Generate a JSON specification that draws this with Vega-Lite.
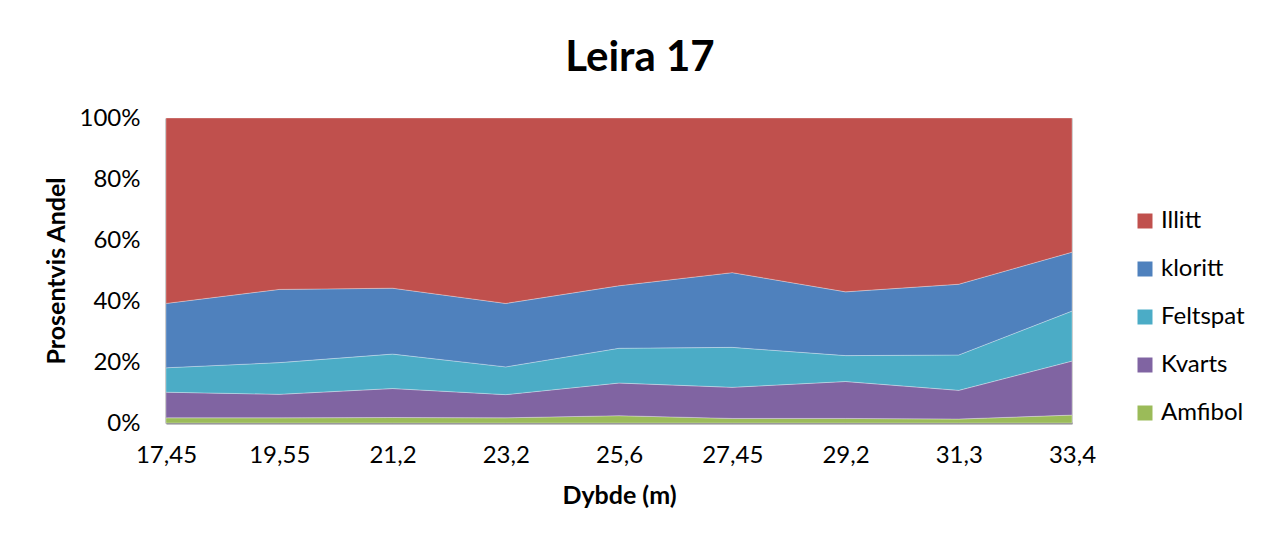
{
  "$schema": "https://vega.github.io/schema/vega-lite/v6.json",
  "width": 906,
  "height": 305,
  "autosize": {"type": "none"},
  "padding": {"left": 166, "top": 118, "right": 200, "bottom": 118},
  "background": "white",
  "title": {
    "text": "Leira 17",
    "font": "Lato",
    "fontSize": 42,
    "fontWeight": "bold",
    "color": "#000000",
    "anchor": "middle",
    "dx": 21,
    "offset": 26
  },
  "data": {
    "values": [
      {"Dybde": "17,45", "Mineral": "Amfibol", "v": 1.7},
      {"Dybde": "17,45", "Mineral": "Kvarts", "v": 8.4},
      {"Dybde": "17,45", "Mineral": "Feltspat", "v": 8.0},
      {"Dybde": "17,45", "Mineral": "kloritt", "v": 21.1},
      {"Dybde": "17,45", "Mineral": "Illitt", "v": 60.8},
      {"Dybde": "19,55", "Mineral": "Amfibol", "v": 1.7},
      {"Dybde": "19,55", "Mineral": "Kvarts", "v": 7.7},
      {"Dybde": "19,55", "Mineral": "Feltspat", "v": 10.4},
      {"Dybde": "19,55", "Mineral": "kloritt", "v": 24.0},
      {"Dybde": "19,55", "Mineral": "Illitt", "v": 56.2},
      {"Dybde": "21,2", "Mineral": "Amfibol", "v": 1.8},
      {"Dybde": "21,2", "Mineral": "Kvarts", "v": 9.5},
      {"Dybde": "21,2", "Mineral": "Feltspat", "v": 11.3},
      {"Dybde": "21,2", "Mineral": "kloritt", "v": 21.6},
      {"Dybde": "21,2", "Mineral": "Illitt", "v": 55.8},
      {"Dybde": "23,2", "Mineral": "Amfibol", "v": 1.7},
      {"Dybde": "23,2", "Mineral": "Kvarts", "v": 7.6},
      {"Dybde": "23,2", "Mineral": "Feltspat", "v": 9.1},
      {"Dybde": "23,2", "Mineral": "kloritt", "v": 20.8},
      {"Dybde": "23,2", "Mineral": "Illitt", "v": 60.8},
      {"Dybde": "25,6", "Mineral": "Amfibol", "v": 2.4},
      {"Dybde": "25,6", "Mineral": "Kvarts", "v": 10.7},
      {"Dybde": "25,6", "Mineral": "Feltspat", "v": 11.4},
      {"Dybde": "25,6", "Mineral": "kloritt", "v": 20.5},
      {"Dybde": "25,6", "Mineral": "Illitt", "v": 55.0},
      {"Dybde": "27,45", "Mineral": "Amfibol", "v": 1.5},
      {"Dybde": "27,45", "Mineral": "Kvarts", "v": 10.2},
      {"Dybde": "27,45", "Mineral": "Feltspat", "v": 13.1},
      {"Dybde": "27,45", "Mineral": "kloritt", "v": 24.5},
      {"Dybde": "27,45", "Mineral": "Illitt", "v": 50.7},
      {"Dybde": "29,2", "Mineral": "Amfibol", "v": 1.5},
      {"Dybde": "29,2", "Mineral": "Kvarts", "v": 12.1},
      {"Dybde": "29,2", "Mineral": "Feltspat", "v": 8.5},
      {"Dybde": "29,2", "Mineral": "kloritt", "v": 20.9},
      {"Dybde": "29,2", "Mineral": "Illitt", "v": 57.0},
      {"Dybde": "31,3", "Mineral": "Amfibol", "v": 1.3},
      {"Dybde": "31,3", "Mineral": "Kvarts", "v": 9.4},
      {"Dybde": "31,3", "Mineral": "Feltspat", "v": 11.6},
      {"Dybde": "31,3", "Mineral": "kloritt", "v": 23.2},
      {"Dybde": "31,3", "Mineral": "Illitt", "v": 54.5},
      {"Dybde": "33,4", "Mineral": "Amfibol", "v": 2.6},
      {"Dybde": "33,4", "Mineral": "Kvarts", "v": 17.7},
      {"Dybde": "33,4", "Mineral": "Feltspat", "v": 16.4},
      {"Dybde": "33,4", "Mineral": "kloritt", "v": 19.3},
      {"Dybde": "33,4", "Mineral": "Illitt", "v": 44.0}
    ]
  },
  "transform": [
    {"calculate": "indexof(['Amfibol','Kvarts','Feltspat','kloritt','Illitt'], datum.Mineral)", "as": "stackOrder"}
  ],
  "mark": {"type": "area", "stroke": "#ffffff", "strokeWidth": 0.6, "strokeOpacity": 0.5, "opacity": 1},
  "encoding": {
    "x": {
      "field": "Dybde",
      "type": "ordinal",
      "sort": ["17,45", "19,55", "21,2", "23,2", "25,6", "27,45", "29,2", "31,3", "33,4"],
      "scale": {"type": "point", "padding": 0},
      "axis": {
        "title": "Dybde (m)",
        "labelAngle": 0,
        "ticks": false,
        "grid": false,
        "labelPadding": 20,
        "titlePadding": 16,
        "domainColor": "#888888",
        "domainWidth": 2
      }
    },
    "y": {
      "aggregate": "sum",
      "field": "v",
      "type": "quantitative",
      "stack": "normalize",
      "scale": {"domain": [0, 1]},
      "axis": {
        "title": "Prosentvis Andel",
        "format": ".0%",
        "values": [0, 0.2, 0.4, 0.6, 0.8, 1],
        "ticks": false,
        "grid": false,
        "labelPadding": 26,
        "titlePadding": 10,
        "domainColor": "#888888",
        "domainWidth": 2
      }
    },
    "color": {
      "field": "Mineral",
      "type": "nominal",
      "scale": {
        "domain": ["Illitt", "kloritt", "Feltspat", "Kvarts", "Amfibol"],
        "range": ["#C0504D", "#4F81BD", "#4BACC6", "#8064A2", "#9BBB59"]
      },
      "legend": {
        "title": null,
        "orient": "none",
        "legendX": 967,
        "legendY": 91,
        "symbolType": "square",
        "symbolSize": 225,
        "symbolStrokeWidth": 0,
        "labelFontSize": 24,
        "labelFont": "Lato",
        "labelColor": "#000000",
        "rowPadding": 24,
        "labelOffset": 4
      }
    },
    "order": {"field": "stackOrder", "type": "quantitative"}
  },
  "config": {
    "view": {"stroke": "#c8c8c8", "strokeWidth": 1},
    "axis": {
      "labelFont": "Lato",
      "labelFontSize": 24,
      "labelColor": "#000000",
      "titleFont": "Lato",
      "titleFontSize": 25,
      "titleFontWeight": "bold",
      "titleColor": "#000000"
    }
  }
}
